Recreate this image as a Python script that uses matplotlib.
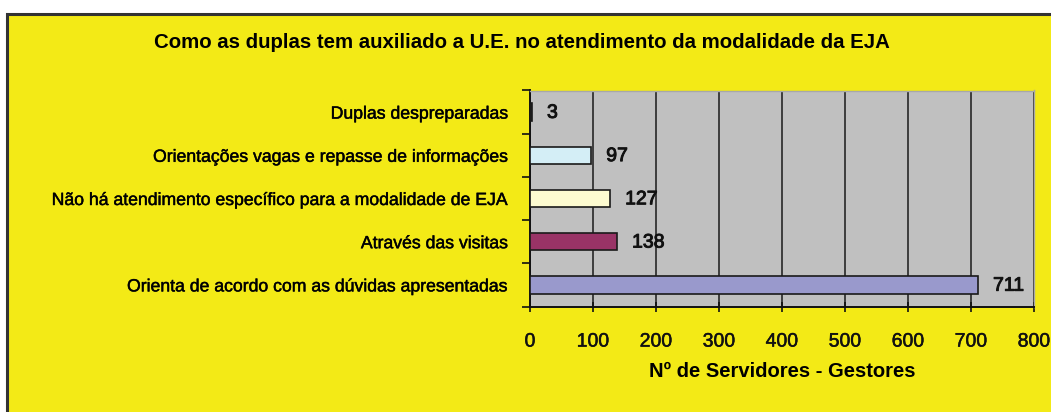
import matplotlib.pyplot as plt
import matplotlib.patches as patches
import matplotlib.patheffects as pe
import numpy as np

# Data (top to bottom as shown in the chart)
categories = [
    "Duplas despreparadas",
    "Orientações vagas e repasse de informações",
    "Não há atendimento específico para a modalidade de EJA",
    "Através das visitas",
    "Orienta de acordo com as dúvidas apresentadas",
]
values = [3, 97, 127, 138, 711]
bar_colors = ["#2a2a2a", "#d4eef6", "#fdfbd0", "#993366", "#9999cc"]

title = "Como as duplas tem auxiliado a U.E. no atendimento da modalidade da EJA"
xlabel = "Nº de Servidores - Gestores"
xticks = [0, 100, 200, 300, 400, 500, 600, 700, 800]

yellow = "#f3ea16"
font = "Liberation Sans"
# slightly heavier strokes, like the scanned original
heavy = [pe.withStroke(linewidth=0.35, foreground="#111111")]

fig = plt.figure(figsize=(10.51, 4.12), dpi=100)
fig.patch.set_facecolor("white")

# yellow panel with dark frame, cropped on the right and bottom
W, H = 1051, 412
panel = patches.Rectangle((7 / W, -0.1), 1.2, (H - 14) / H + 0.1,
                          transform=fig.transFigure, facecolor=yellow,
                          edgecolor="#333333", linewidth=2.2, zorder=-10)
fig.add_artist(panel)

ax = fig.add_axes([530 / W, 105.5 / H, 504 / W, 216 / H])
ax.set_facecolor("#c0c0c0")

y = np.arange(len(categories))[::-1]
ax.barh(y, values, height=0.4, color=bar_colors, edgecolor="#1a1a1a",
        linewidth=1.2, zorder=3)

for yi, v in zip(y, values):
    ax.text(v + 24, yi - 0.03, str(v), va="center", ha="left", fontsize=14,
            family=font, color="#111111", zorder=4,
            path_effects=[pe.withStroke(linewidth=0.7, foreground="#111111")])

ax.set_xlim(0, 800)
ax.set_ylim(-0.5, len(categories) - 0.5)
ax.set_xticks(xticks)
ax.set_xticklabels([str(t) for t in xticks], fontsize=14, family=font)
ax.tick_params(axis="x", direction="inout", length=7, width=1.2, pad=16,
               colors="#111111")
ax.xaxis.grid(True, color="#1a1a1a", linewidth=1.1, zorder=1)
ax.set_axisbelow(True)

ax.set_yticks(y)
ax.set_yticklabels(categories, fontsize=12.7, family=font)
ax.tick_params(axis="y", which="major", length=0, pad=16)
ax.set_yticks(np.arange(-0.5, len(categories), 1.0), minor=True)
ax.tick_params(axis="y", which="minor", length=6, width=1.2, direction="out",
               colors="#111111")

for lbl in ax.get_xticklabels() + ax.get_yticklabels():
    lbl.set_path_effects(heavy)

for side in ["left", "bottom"]:
    ax.spines[side].set_color("#111111")
    ax.spines[side].set_linewidth(1.4)
for side in ["top", "right"]:
    ax.spines[side].set_color("#a8a8a8")
    ax.spines[side].set_linewidth(1.0)

ax.set_xlabel(xlabel, fontsize=14.5, fontweight="bold", family=font,
              labelpad=8)

fig.text(0.497, (H - 42) / H, title, ha="center", va="center",
         fontsize=14.7, fontweight="bold", family=font)

fig.savefig("out.png", dpi=100, facecolor=fig.get_facecolor())
